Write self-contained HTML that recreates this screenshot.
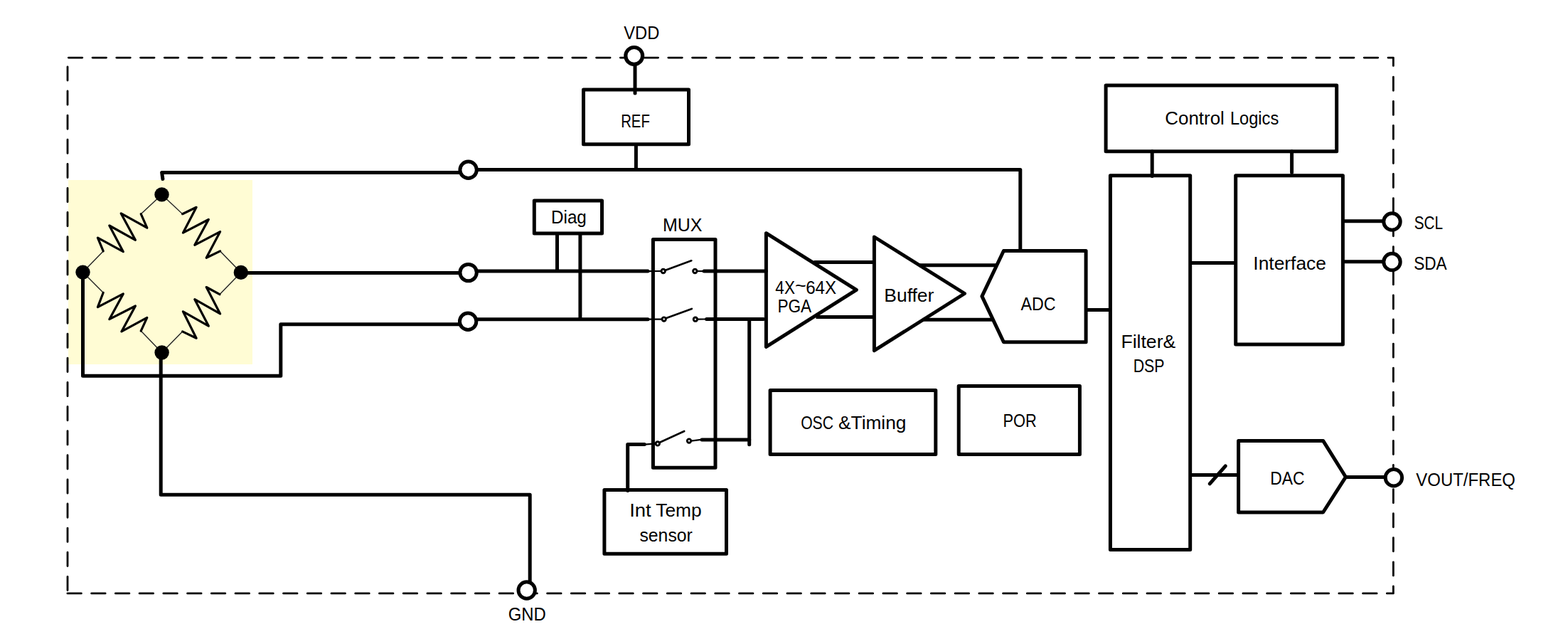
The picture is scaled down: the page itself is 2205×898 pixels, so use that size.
<!DOCTYPE html>
<html lang="en">
<head>
<meta charset="utf-8">
<title>Sensor signal conditioner block diagram</title>
<style>
html,body{margin:0;padding:0;background:#fff;}
body{width:2205px;height:898px;overflow:hidden;}
svg{display:block;}
text{font-family:"Liberation Sans",sans-serif;font-size:25px;fill:#000;}
.w{fill:none;stroke:#000;stroke-width:5;stroke-linecap:butt;stroke-linejoin:round;}
.r{stroke-linecap:round;}
.b{fill:none;stroke:#000;stroke-width:5;stroke-linejoin:round;}
.t{fill:#fff;stroke:#000;}
.z{fill:none;stroke:#000;stroke-width:3.2;stroke-linejoin:round;stroke-linecap:round;}
.l{fill:none;stroke:#222;stroke-width:1.4;}
.s{fill:none;stroke:#000;stroke-width:2.2;stroke-linecap:round;}
.sc{fill:#fff;stroke:#000;stroke-width:2.9;}
</style>
</head>
<body>
<svg width="2205" height="898" viewBox="0 0 2205 898" role="img" aria-label="Sensor signal conditioner block diagram">
<rect x="0" y="0" width="2205" height="898" fill="#fff"/>
<!-- sensor bridge -->
<rect x="96" y="253" width="259" height="259" fill="#fffcd4"/>
<!-- chip boundary -->
<path d="M96.30 81.10L115.80 81.10M130.04 81.10L149.54 81.10M163.78 81.10L183.28 81.10M197.52 81.10L217.02 81.10M231.26 81.10L250.76 81.10M265.00 81.10L284.50 81.10M298.74 81.10L318.24 81.10M332.48 81.10L351.98 81.10M366.22 81.10L385.72 81.10M399.96 81.10L419.46 81.10M433.70 81.10L453.20 81.10M467.44 81.10L486.94 81.10M501.18 81.10L520.68 81.10M534.92 81.10L554.42 81.10M568.66 81.10L588.16 81.10M602.40 81.10L621.90 81.10M636.14 81.10L655.64 81.10M669.88 81.10L689.38 81.10M703.62 81.10L723.12 81.10M737.36 81.10L756.86 81.10M771.10 81.10L790.60 81.10M804.84 81.10L824.34 81.10M838.58 81.10L858.08 81.10M872.32 81.10L891.82 81.10M906.06 81.10L925.56 81.10M939.80 81.10L959.30 81.10M973.54 81.10L993.04 81.10M1007.28 81.10L1026.78 81.10M1041.02 81.10L1060.52 81.10M1074.76 81.10L1094.26 81.10M1108.50 81.10L1128.00 81.10M1142.24 81.10L1161.74 81.10M1175.98 81.10L1195.48 81.10M1209.72 81.10L1229.22 81.10M1243.46 81.10L1262.96 81.10M1277.20 81.10L1296.70 81.10M1310.94 81.10L1330.44 81.10M1344.68 81.10L1364.18 81.10M1378.42 81.10L1397.92 81.10M1412.16 81.10L1431.66 81.10M1445.90 81.10L1465.40 81.10M1479.64 81.10L1499.14 81.10M1513.38 81.10L1532.88 81.10M1547.12 81.10L1566.62 81.10M1580.86 81.10L1600.36 81.10M1614.60 81.10L1634.10 81.10M1648.34 81.10L1667.84 81.10M1682.08 81.10L1701.58 81.10M1715.82 81.10L1735.32 81.10M1749.56 81.10L1769.06 81.10M1783.30 81.10L1802.80 81.10M1817.04 81.10L1836.54 81.10M1850.78 81.10L1870.28 81.10M1884.52 81.10L1904.02 81.10M1918.26 81.10L1937.76 81.10M1952.00 81.10L1959.40 81.10M94.90 833.90L114.40 833.90M128.63 833.90L148.13 833.90M162.37 833.90L181.87 833.90M196.10 833.90L215.60 833.90M229.84 833.90L249.34 833.90M263.57 833.90L283.08 833.90M297.31 833.90L316.81 833.90M331.04 833.90L350.55 833.90M364.78 833.90L384.28 833.90M398.51 833.90L418.02 833.90M432.25 833.90L451.75 833.90M465.98 833.90L485.49 833.90M499.72 833.90L519.22 833.90M533.46 833.90L552.96 833.90M567.19 833.90L586.69 833.90M600.92 833.90L620.42 833.90M634.66 833.90L654.16 833.90M668.39 833.90L687.89 833.90M702.13 833.90L721.63 833.90M735.87 833.90L755.37 833.90M769.60 833.90L789.10 833.90M803.33 833.90L822.83 833.90M837.07 833.90L856.57 833.90M870.80 833.90L890.30 833.90M904.54 833.90L924.04 833.90M938.27 833.90L957.77 833.90M972.01 833.90L991.51 833.90M1005.75 833.90L1025.24 833.90M1039.48 833.90L1058.98 833.90M1073.22 833.90L1092.71 833.90M1106.95 833.90L1126.45 833.90M1140.69 833.90L1160.18 833.90M1174.42 833.90L1193.92 833.90M1208.15 833.90L1227.65 833.90M1241.89 833.90L1261.39 833.90M1275.62 833.90L1295.12 833.90M1309.36 833.90L1328.86 833.90M1343.10 833.90L1362.59 833.90M1376.83 833.90L1396.33 833.90M1410.57 833.90L1430.06 833.90M1444.30 833.90L1463.80 833.90M1478.04 833.90L1497.53 833.90M1511.77 833.90L1531.27 833.90M1545.51 833.90L1565.00 833.90M1579.24 833.90L1598.74 833.90M1612.98 833.90L1632.47 833.90M1646.71 833.90L1666.21 833.90M1680.45 833.90L1699.94 833.90M1714.18 833.90L1733.68 833.90M1747.91 833.90L1767.41 833.90M1781.65 833.90L1801.15 833.90M1815.38 833.90L1834.88 833.90M1849.12 833.90L1868.62 833.90M1882.86 833.90L1902.35 833.90M1916.59 833.90L1936.09 833.90M1950.33 833.90L1959.40 833.90M95.00 93.80L95.00 113.10M95.00 127.92L95.00 147.22M95.00 162.04L95.00 181.34M95.00 196.16L95.00 215.46M95.00 230.28L95.00 249.58M95.00 264.40L95.00 283.70M95.00 298.52L95.00 317.82M95.00 332.64L95.00 351.94M95.00 366.76L95.00 386.06M95.00 400.88L95.00 420.18M95.00 435.00L95.00 454.30M95.00 469.12L95.00 488.42M95.00 503.24L95.00 522.54M95.00 537.36L95.00 556.66M95.00 571.48L95.00 590.78M95.00 605.60L95.00 624.90M95.00 639.72L95.00 659.02M95.00 673.84L95.00 693.14M95.00 707.96L95.00 727.26M95.00 742.08L95.00 761.38M95.00 776.20L95.00 795.50M95.00 810.32L95.00 829.60M1959.40 81.10L1959.40 92.40M1959.40 108.20L1959.40 127.30M1959.40 142.28L1959.40 161.38M1959.40 176.36L1959.40 195.46M1959.40 210.44L1959.40 229.54M1959.40 244.52L1959.40 263.62M1959.40 278.60L1959.40 297.70M1959.40 312.68L1959.40 331.78M1959.40 346.76L1959.40 365.86M1959.40 380.84L1959.40 399.94M1959.40 414.92L1959.40 434.02M1959.40 449.00L1959.40 468.10M1959.40 483.08L1959.40 502.18M1959.40 517.16L1959.40 536.26M1959.40 551.24L1959.40 570.34M1959.40 585.32L1959.40 604.42M1959.40 619.40L1959.40 638.50M1959.40 653.48L1959.40 672.58M1959.40 687.56L1959.40 706.66M1959.40 721.64L1959.40 740.74M1959.40 755.72L1959.40 774.82M1959.40 789.80L1959.40 808.90M1959.40 823.88L1959.40 833.90" fill="none" stroke="#000" stroke-width="2.80" stroke-linecap="round"/>
<g class="l">
<path d="M116.5 382.6L145.2 352.9"/>
<path d="M198.2 300.7L227.5 273.4"/>
<path d="M227.5 273.4L256.6 300.7"/>
<path d="M309.6 352.9L338.8 382.9"/>
<path d="M116.5 382.6L145.2 411.3"/>
<path d="M198.2 465.1L227.6 495.5"/>
<path d="M227.6 495.5L256.6 465.9"/>
<path d="M308.9 413.7L338.8 382.9"/>
</g>
<g class="z">
<path d="M145.2 352.9L137.4 334.2L173.3 353.7L153.8 317.0L190.4 337.3L170.2 299.9L206.8 320.2L198.2 300.7"/>
<path d="M256.6 300.7L276.1 291.3L257.4 327.2L293.3 308.5L273.8 344.3L309.6 325.6L290.2 362.3L309.6 352.9"/>
<path d="M145.2 411.3L137.4 431.6L173.3 412.9L153.8 448.7L190.4 430.0L170.9 465.9L206.8 446.4L198.2 465.1"/>
<path d="M256.6 465.9L276.1 475.2L257.4 437.8L293.3 458.1L273.8 420.7L309.6 440.9L290.2 403.5L308.9 413.7"/>
</g>
<!-- wires -->
<g class="w">
<path d="M228.9 251.6L227.6 242.4H646" class="r"/>
<path d="M671 238.4H1434.8V352"/>
<path d="M893 91V131" class="r"/>
<path d="M894.4 205V238.4"/>
<path d="M338.8 383.5H646"/>
<path d="M671 381.1H911" class="r"/>
<path d="M116.5 382.6V528.2H394.8V455.7H646"/>
<path d="M671 448.7H911" class="r"/>
<path d="M226.2 495.5V695.2H745.2V817"/>
<path d="M783.5 328V381.1"/>
<path d="M815.9 328V448.7"/>
<path d="M990 380.9H1077.4" class="r"/>
<path d="M993.6 448.5H1073.5" class="r"/>
<path d="M1053.7 448.5V624.8" class="r"/>
<path d="M987 617.9H1053.7" class="r"/>
<path d="M906.3 624.6H882.7V689.4" class="r"/>
<path d="M1144.5 368.4H1229.4"/>
<path d="M1147.5 445.5H1229.4"/>
<path d="M1292.5 372.7H1401.5"/>
<path d="M1297.5 449.3H1396.5"/>
<path d="M1527 435.6H1561.4"/>
<path d="M1620.2 212.8V247.6" class="r"/>
<path d="M1816.6 212.8V242.6" class="r"/>
<path d="M1673.7 369.4H1737.7"/>
<path d="M1888.4 310.7H1945"/>
<path d="M1888.4 367.7H1945"/>
<path d="M1673.7 667.4H1741.6"/>
<path d="M1701.2 679.8L1723.3 654.8" class="r"/>
<path d="M1892.4 670.4H1947"/>
</g>
<!-- blocks -->
<g class="b">
<rect x="820.50" y="126.00" width="148.00" height="76.70"/>
<rect x="751.30" y="281.90" width="95.20" height="46.00"/>
<rect x="918.40" y="336.40" width="87.60" height="320.80"/>
<polygon points="1077.40,327.70 1204.30,407.30 1077.40,487.40"/>
<polygon points="1229.40,333.00 1356.50,412.50 1229.40,492.70"/>
<polygon points="1411.40,352.50 1527.10,352.50 1527.10,480.70 1411.40,480.70 1380.90,416.40"/>
<rect x="1555.10" y="120.10" width="324.60" height="92.70"/>
<rect x="1561.40" y="246.80" width="112.30" height="525.80"/>
<rect x="1737.70" y="246.80" width="150.70" height="237.20"/>
<rect x="1083.10" y="548.50" width="232.70" height="89.90"/>
<rect x="1348.20" y="542.60" width="170.20" height="95.80"/>
<rect x="849.90" y="688.50" width="171.60" height="89.80"/>
<polygon points="1741.60,619.40 1860.60,619.40 1892.40,670.30 1860.60,720.00 1741.60,720.00"/>
</g>
<!-- switches -->
<g class="s">
<path d="M911.0 381.1L929.7 381.0"/>
<path d="M935.8 379.7L972.3 366.3" stroke-width="2.7"/>
<path d="M980.3 381.0L988.5 381.2"/>
<path d="M911.0 448.7L930.7 448.6"/>
<path d="M936.4 447.2L972.8 434.0" stroke-width="2.7"/>
<path d="M980.9 448.7L992.0 448.5"/>
<path d="M906.3 624.6L921.8 623.4"/>
<path d="M928.3 621.6L962.2 606.0" stroke-width="2.7"/>
<path d="M972.0 619.6L985.5 617.9"/>
</g>
<g class="sc">
<circle cx="932.7" cy="381.0" r="2.7"/>
<circle cx="977.3" cy="381.0" r="2.7"/>
<circle cx="933.7" cy="448.6" r="2.7"/>
<circle cx="977.9" cy="448.7" r="2.7"/>
<circle cx="924.8" cy="623.4" r="2.7"/>
<circle cx="969.0" cy="619.6" r="2.7"/>
</g>
<!-- terminals -->
<g class="t">
<circle cx="891.70" cy="78.40" r="11.90" stroke-width="5.20"/>
<circle cx="658.60" cy="238.80" r="11.70" stroke-width="5.00"/>
<circle cx="658.60" cy="383.10" r="11.70" stroke-width="5.00"/>
<circle cx="658.10" cy="451.70" r="11.70" stroke-width="5.00"/>
<circle cx="740.70" cy="829.50" r="11.70" stroke-width="5.00"/>
<circle cx="1957.50" cy="311.50" r="11.70" stroke-width="5.00"/>
<circle cx="1957.50" cy="368.00" r="11.70" stroke-width="5.00"/>
<circle cx="1959.90" cy="671.30" r="11.70" stroke-width="5.00"/>
</g>
<!-- bridge nodes -->
<g fill="#000">
<circle cx="227.50" cy="273.40" r="10.20"/>
<circle cx="116.50" cy="382.60" r="10.20"/>
<circle cx="338.80" cy="382.90" r="10.20"/>
<circle cx="227.60" cy="495.50" r="10.20"/>
</g>
<!-- labels -->
<g>
<text y="54.70"><tspan x="877.26" textLength="50.02" lengthAdjust="spacingAndGlyphs">VDD</tspan></text>
<text y="179.00"><tspan x="873.17" textLength="40.69" lengthAdjust="spacingAndGlyphs">REF</tspan></text>
<text y="314.40"><tspan x="775.06" textLength="49.75" lengthAdjust="spacingAndGlyphs">Diag</tspan></text>
<text y="324.60"><tspan x="931.90" textLength="55.56" lengthAdjust="spacingAndGlyphs">MUX</tspan></text>
<text y="412.70"><tspan x="1090.35" textLength="27.59" lengthAdjust="spacingAndGlyphs">4X</tspan><tspan x="1117.95" dy="-3.2" textLength="15.74" lengthAdjust="spacingAndGlyphs">~</tspan><tspan x="1133.19" dy="3.2" textLength="42.91" lengthAdjust="spacingAndGlyphs">64X</tspan></text>
<text y="439.30"><tspan x="1093.39" textLength="47.75" lengthAdjust="spacingAndGlyphs">PGA</tspan></text>
<text y="423.70"><tspan x="1243.28" textLength="70.15" lengthAdjust="spacingAndGlyphs">Buffer</tspan></text>
<text y="435.70"><tspan x="1435.40" textLength="49.07" lengthAdjust="spacingAndGlyphs">ADC</tspan></text>
<text y="175.20"><tspan x="1638.30" textLength="83.55" lengthAdjust="spacingAndGlyphs">Control</tspan> <tspan x="1729.91" textLength="68.35" lengthAdjust="spacingAndGlyphs">Logics</tspan></text>
<text y="489.20"><tspan x="1576.48" textLength="76.74" lengthAdjust="spacingAndGlyphs">Filter&amp;</tspan></text>
<text y="523.20"><tspan x="1593.70" textLength="43.80" lengthAdjust="spacingAndGlyphs">DSP</tspan></text>
<text y="378.70"><tspan x="1762.33" textLength="102.66" lengthAdjust="spacingAndGlyphs">Interface</tspan></text>
<text y="321.60"><tspan x="1988.67" textLength="40.27" lengthAdjust="spacingAndGlyphs">SCL</tspan></text>
<text y="378.70"><tspan x="1988.17" textLength="46.47" lengthAdjust="spacingAndGlyphs">SDA</tspan></text>
<text y="680.70"><tspan x="1786.27" textLength="48.29" lengthAdjust="spacingAndGlyphs">DAC</tspan></text>
<text y="682.90"><tspan x="1991.36" textLength="139.63" lengthAdjust="spacingAndGlyphs">VOUT/FREQ</tspan></text>
<text y="726.20"><tspan x="885.23" textLength="30.52" lengthAdjust="spacingAndGlyphs">Int</tspan> <tspan x="922.27" textLength="64.43" lengthAdjust="spacingAndGlyphs">Temp</tspan></text>
<text y="760.60"><tspan x="899.46" textLength="74.33" lengthAdjust="spacingAndGlyphs">sensor</tspan></text>
<text y="602.70"><tspan x="1126.14" textLength="45.86" lengthAdjust="spacingAndGlyphs">OSC</tspan> <tspan x="1179.05" textLength="95.34" lengthAdjust="spacingAndGlyphs">&amp;Timing</tspan></text>
<text y="600.10"><tspan x="1410.55" textLength="47.28" lengthAdjust="spacingAndGlyphs">POR</tspan></text>
<text y="871.90"><tspan x="714.81" textLength="53.05" lengthAdjust="spacingAndGlyphs">GND</tspan></text>
</g>
</svg>
</body>
</html>
